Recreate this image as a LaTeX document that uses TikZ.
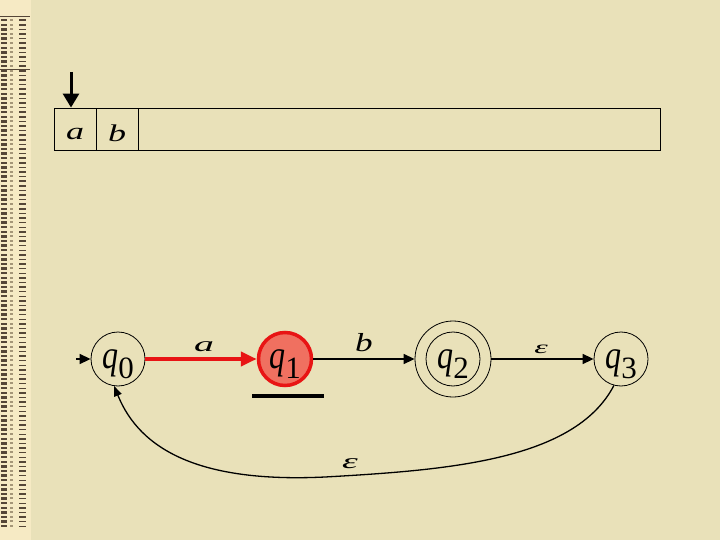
\documentclass[tikz,border=0pt]{standalone}
\usepackage{fontspec}
\setmainfont{Liberation Serif}
\usetikzlibrary{arrows.meta}
\definecolor{bg}{RGB}{233,225,185}
\definecolor{stripc}{RGB}{246,234,196}
\definecolor{markc}{RGB}{85,70,55}
\definecolor{markg}{RGB}{165,150,120}
\definecolor{redline}{RGB}{232,20,20}
\definecolor{redfill}{RGB}{240,112,96}
\newcommand{\qlab}[1]{\scalebox{0.8}[1]{\fontsize{40}{40}\selectfont\textit{q}}\raisebox{-10pt}{\fontsize{31}{31}\selectfont #1}}
\newcommand{\stretchit}[3]{{\fontsize{#1}{#1}\selectfont\scalebox{#2}[1]{\textit{#3}}}}
\begin{document}
\begin{tikzpicture}[x=1pt,y=-1pt,
  state/.style={circle,draw,line width=0.8pt,minimum size=54pt,inner sep=0pt},
  qtext/.style={inner sep=0pt,yshift=-5pt},
  lbl/.style={inner sep=0pt},
  cell/.style={draw,line width=0.9pt,minimum height=42pt,inner sep=0pt},
  edgeb/.style={-{Triangle[length=11pt,width=10pt]},line width=1.4pt},
  edger/.style={-{Triangle[length=16pt,width=14pt]},line width=4pt,draw=redline,color=redline},
  curveb/.style={-{Triangle[length=10pt,width=8pt]},line width=1.3pt},
  ptrarrow/.style={-{Triangle[length=14pt,width=16pt]},line width=3pt}]
\useasboundingbox (0,0) rectangle (720,540);
\fill[bg] (0,0) rectangle (720,540);
% left strip
\fill[stripc] (0,0) rectangle (31,540);
\draw[markc,line width=0.8pt] (0,16.5) -- (30,16.5);
\draw[markc,line width=0.8pt] (0,69) -- (30,69);
\foreach \i in {0,...,110} {
  \pgfmathsetmacro{\yy}{19+\i*4.6}
  \fill[markc] (1,\yy) rectangle (7,\yy+2.4);
  \fill[markg] (10,\yy) rectangle (13,\yy+2);
  \fill[markc] (19,\yy+0.5) rectangle (26,\yy+2);
}
% tape
\node[cell,minimum width=42pt] (c1) at (75,129) {};
\node[cell,minimum width=42pt] (c2) at (117,129) {};
\node[cell,minimum width=522pt] (c3) at (399,129) {};
\node[lbl] (ta) at (75,134) {\stretchit{24}{1.5}{a}};
\node[lbl] (tb) at (117,133) {\stretchit{24}{1.5}{b}};
\coordinate (ptr) at (71,72);
\draw[ptrarrow] (ptr) -- (ptr |- c1.north);
% states
\node[state] (q0) at (118,359) {};
\node[state,line width=3.5pt,draw=redline,fill=redfill,minimum size=53pt] (q1) at (285,359) {};
\node[state,minimum size=76pt] (q2) at (453,359) {};
\node[circle,draw,line width=0.8pt,minimum size=54pt,inner sep=0pt] (q2i) at (453,359) {};
\node[state] (q3) at (621,359) {};
\node[qtext] (l0) at (q0) {\qlab{0}};
\node[qtext] (l1) at (q1) {\qlab{1}};
\node[qtext] (l2) at (q2) {\qlab{2}};
\node[qtext] (l3) at (q3) {\qlab{3}};
% underline bar
\draw[line width=4pt] (252,396) -- (324,396);
% edges
\coordinate (start) at (76,359);
\draw[edgeb] (start) -- (q0);
\draw[edger] (q0) -- (q1);
\draw[edgeb] (q1) -- (q2);
\draw[edgeb] (q2) -- (q3);
\coordinate (bot) at (325,477);
\draw[curveb] (q3.255) .. controls (575,460) and (450,470) .. (bot) .. controls (200,483) and (140,450) .. (q0.262);
% edge labels
\node[lbl] (ea) at (204,347) {\stretchit{21}{1.9}{a}};
\node[lbl] (eb) at (364,343) {\stretchit{26}{1.35}{b}};
\node[lbl] (ee1) at (541,349) {\stretchit{18}{1.9}{ε}};
\node[lbl] (ee2) at (350,464) {\stretchit{21}{1.9}{ε}};
\end{tikzpicture}
\end{document}
